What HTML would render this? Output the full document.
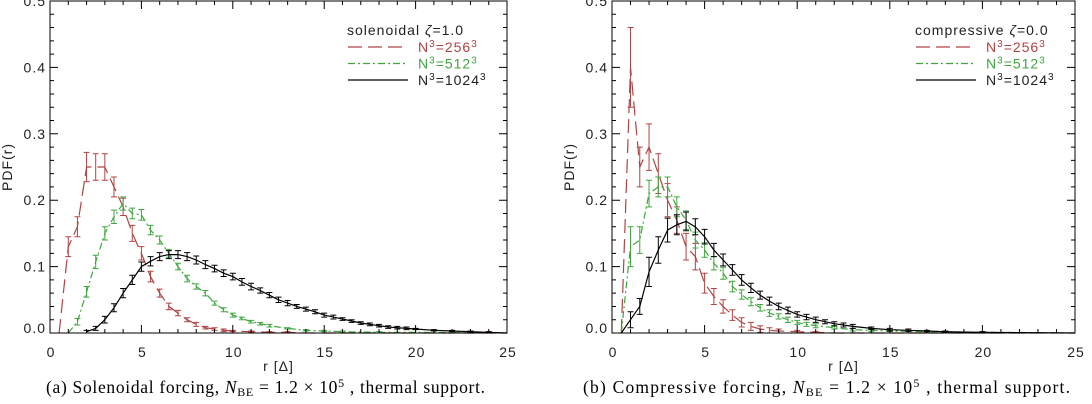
<!DOCTYPE html>
<html><head><meta charset="utf-8"><style>
html,body{margin:0;padding:0;background:#fff;width:1092px;height:404px;overflow:hidden}
svg{display:block}
text{font-family:"Liberation Sans","DejaVu Sans",sans-serif;letter-spacing:1px}
.cap{font-family:"Liberation Serif",serif;font-size:17.5px;letter-spacing:0}
</style></head><body>
<svg id="chart" width="1092" height="404"></svg>
<script>
// ---- data (left panel: solenoidal) ----
const rA256 = [0.5,1,1.5,2,2.5,3,3.5,4,4.5,5,5.5,6,6.5,7,7.5,8,8.5,9,9.5,10,11,12,13,14,15,17,20,25];
const pA256 = [0,0.13,0.16,0.25,0.25,0.25,0.22,0.19,0.15,0.12,0.085,0.06,0.04,0.03,0.02,0.013,0.008,0.006,0.004,0.003,0.002,0.001,0.001,0,0,0,0,0];
const eA256 = [0,0.015,0.015,0.022,0.02,0.02,0.015,0.013,0.012,0.01,0.008,0.006,0.005,0.004,0.003,0.003,0.002,0.002,0.002,0.001,0.001,0.001,0.001,0,0,0,0,0];
const rA512 = [1,1.5,2,2.5,3,3.5,4,4.5,5,5.5,6,6.5,7,7.5,8,8.5,9,9.5,10,10.5,11,11.5,12,13,14,15,16,18,20,25];
const pA512 = [0,0.017,0.062,0.107,0.15,0.175,0.195,0.18,0.178,0.155,0.14,0.12,0.1,0.082,0.07,0.06,0.045,0.035,0.027,0.022,0.017,0.014,0.011,0.007,0.004,0.003,0.002,0.001,0.001,0];
const eA512 = [0,0.005,0.008,0.01,0.01,0.01,0.01,0.008,0.008,0.007,0.006,0.006,0.005,0.005,0.004,0.004,0.003,0.003,0.003,0.002,0.002,0.002,0.002,0.001,0.001,0.001,0.001,0.001,0,0];
const rA1024 = [2,2.5,3,3.5,4,4.5,5,5.5,6,6.5,7,7.5,8,8.5,9,9.5,10,10.5,11,11.5,12,12.5,13,13.5,14,14.5,15,15.5,16,16.5,17,17.5,18,18.5,19,19.5,20,21,22,23,24,25];
const pA1024 = [0.002,0.007,0.02,0.038,0.06,0.08,0.1,0.108,0.115,0.118,0.118,0.115,0.11,0.103,0.097,0.09,0.085,0.077,0.07,0.064,0.057,0.05,0.045,0.04,0.036,0.032,0.027,0.024,0.021,0.018,0.015,0.013,0.011,0.009,0.008,0.007,0.006,0.004,0.003,0.002,0.001,0];
const eA1024 = [0.002,0.003,0.005,0.006,0.007,0.007,0.007,0.007,0.006,0.006,0.006,0.006,0.006,0.006,0.005,0.005,0.005,0.005,0.005,0.004,0.004,0.004,0.004,0.003,0.003,0.003,0.003,0.003,0.002,0.002,0.002,0.002,0.002,0.002,0.002,0.002,0.001,0.001,0.001,0.001,0.001,0];
// ---- data (right panel: compressive) ----
const rB256 = [0.5,1,1.5,2,2.5,3,3.5,4,4.5,5,5.5,6,6.5,7,7.5,8,8.5,9,10,11,12,25];
const pB256 = [0,0.4,0.25,0.28,0.24,0.2,0.17,0.13,0.115,0.075,0.055,0.04,0.027,0.016,0.01,0.006,0.004,0.003,0.002,0.001,0,0];
const eB256 = [0,0.06,0.03,0.035,0.03,0.025,0.02,0.02,0.02,0.015,0.012,0.01,0.008,0.007,0.006,0.005,0.004,0.003,0.002,0.001,0,0];
const rB512 = [0.5,1,1.5,2,2.5,3,3.5,4,4.5,5,5.5,6,6.5,7,7.5,8,8.5,9,9.5,10,10.5,11,12,13,14,15,17,20,25];
const pB512 = [0,0.13,0.14,0.21,0.22,0.22,0.19,0.17,0.14,0.125,0.105,0.09,0.07,0.058,0.047,0.038,0.03,0.025,0.02,0.016,0.013,0.011,0.008,0.005,0.004,0.003,0.002,0.001,0];
const eB512 = [0,0.03,0.02,0.02,0.015,0.015,0.015,0.014,0.012,0.011,0.01,0.009,0.008,0.007,0.006,0.005,0.005,0.004,0.004,0.003,0.003,0.003,0.002,0.002,0.002,0.001,0.001,0.001,0];
const rB1024 = [0.5,1,1.5,2,2.5,3,3.5,4,4.5,5,5.5,6,6.5,7,7.5,8,8.5,9,9.5,10,10.5,11,11.5,12,12.5,13,14,15,16,17,18,20,25];
const pB1024 = [0,0.02,0.04,0.092,0.125,0.155,0.163,0.168,0.16,0.145,0.125,0.11,0.095,0.08,0.068,0.057,0.048,0.04,0.034,0.028,0.024,0.02,0.017,0.014,0.012,0.01,0.007,0.005,0.004,0.003,0.002,0.001,0];
const eB1024 = [0,0.012,0.012,0.022,0.02,0.018,0.015,0.014,0.012,0.011,0.01,0.009,0.008,0.008,0.007,0.006,0.006,0.005,0.005,0.004,0.004,0.004,0.003,0.003,0.003,0.003,0.002,0.002,0.002,0.001,0.001,0.001,0];
const xTicks = [0,5,10,15,20,25];
const yTicks = [0.0,0.1,0.2,0.3,0.4,0.5];
const yTickLabels = ["0.0","0.1","0.2","0.3","0.4","0.5"];

const NS = "http://www.w3.org/2000/svg";
const svg = document.getElementById('chart');
function mk(tag, attrs, parent){
  const e = document.createElementNS(NS, tag);
  for (const k in attrs) e.setAttribute(k, attrs[k]);
  (parent||svg).appendChild(e);
  return e;
}
const RED = "#b04444", GREEN = "#3fa63f", BLACK = "#000";

function panel(x0, x1, id, title, caption, capX, capW, series){
  const y0 = 333, y1 = 1;
  const sx = v => x0 + (x1 - x0) * v / 25;
  const sy = v => y0 - (y0 - y1) * v / 0.5;
  const g = mk('g', {});
  
  
  series.forEach(s => {
    const sg = mk('g', {}, g);
    
    
    let d = '';
    s.r.forEach((r, i) => { d += (i ? 'L' : 'M') + sx(r).toFixed(1) + ',' + sy(s.p[i]).toFixed(1); });
    const ln = mk('path', {d: d, fill: 'none', stroke: s.color, 'stroke-width': 1.2, 'stroke-dasharray': s.dash}, sg);
    
    
    s.r.forEach((r, i) => {
      if (!s.e[i]) return;
      const X = sx(r), lo = sy(Math.max(0, s.p[i] - s.e[i])), hi = sy(s.p[i] + s.e[i]);
      const eb = mk('path', {d: `M${X},${lo}V${hi}M${X-3},${lo}h6M${X-3},${hi}h6`, stroke: s.color, 'stroke-width': 1, fill: 'none'}, sg);
      
      
    });
  });
  const fr = mk('rect', {x: x0, y: y1, width: x1 - x0, height: y0 - y1, fill: 'none', stroke: '#000', 'stroke-width': 1}, g);
  
  
  let td = '';
  for (let v = 0; v <= 25; v += 1) {
    const L = v % 5 === 0 ? 8 : 4, X = sx(v);
    td += `M${X},${y0}v${-L}M${X},${y1}v${L}`;
  }
  for (let k = 0; k <= 25; k++) {
    const v = k * 0.02, L = k % 5 === 0 ? 8 : 4, Y = sy(v);
    td += `M${x0},${Y}h${L}M${x1},${Y}h${-L}`;
  }
  const tk = mk('path', {d: td, stroke: '#000', 'stroke-width': 1, fill: 'none'}, g);
  
  
  xTicks.forEach(v => {
    const t = mk('text', {x: sx(v) + 1, y: 357, 'font-size': 14, 'text-anchor': 'middle', fill: '#222'}, g);
    t.textContent = v;
    
    
  });
  yTicks.forEach((v, i) => {
    const t = mk('text', {x: x0 - 4, y: sy(v) + (i === 0 ? 0 : 5), 'font-size': 14, 'text-anchor': 'end', fill: '#222'}, g);
    t.textContent = yTickLabels[i];
    
    
  });
  const yl = mk('text', {x: 0, y: 0, 'font-size': 14, 'text-anchor': 'middle', fill: '#222', transform: `translate(${x0 - 38},167) rotate(-90)`}, g);
  yl.textContent = 'PDF(r)';
  
  
  const xl = mk('text', {x: (x0 + x1) / 2, y: 371, 'font-size': 14, 'text-anchor': 'middle', fill: '#222'}, g);
  xl.textContent = 'r [Δ]';
  
  
  const lx = x1 - 159;
  const lg = mk('g', {}, g);
  
  
  const lt = mk('text', {x: lx - 1, y: 35, 'font-size': 14, fill: '#222'}, lg);
  lt.innerHTML = title;
  
  
  series.forEach((s, i) => {
    const Y = 47 + i * 16.5;
    const l = mk('line', {x1: lx, x2: lx + 60, y1: Y, y2: Y, stroke: s.color, 'stroke-width': 1.2, 'stroke-dasharray': s.dash}, lg);
    
    
    const t = mk('text', {x: lx + 70, y: Y + 5, 'font-size': 14, fill: s.color === BLACK ? '#222' : s.color}, lg);
    t.innerHTML = 'N<tspan dy="-5" font-size="10">3</tspan><tspan dy="5">=' + s.label + '</tspan><tspan dy="-5" font-size="10">3</tspan>';
    
    
  });
  const c = mk('text', {x: capX, y: 393, 'text-anchor': 'start', class: 'cap', fill: '#000', textLength: capW, lengthAdjust: 'spacing'}, g);
  c.innerHTML = caption;
  
  
}

const capTail = ', <tspan font-style="italic">N</tspan><tspan font-size="12" dy="3">BE</tspan><tspan dy="-3"> = 1.2 × 10</tspan><tspan font-size="12" dy="-6">5</tspan><tspan dy="6"> , thermal support.</tspan>';
panel(50, 507, 'solenoidal', 'solenoidal  <tspan font-style="italic">ζ</tspan>=1.0',
  '(a)  Solenoidal forcing' + capTail, 46, 439,
  [{name:'256', label:'256', r:rA256, p:pA256, e:eA256, color:RED, dash:'14 6'},
   {name:'512', label:'512', r:rA512, p:pA512, e:eA512, color:GREEN, dash:'7 3 2 3'},
   {name:'1024', label:'1024', r:rA1024, p:pA1024, e:eA1024, color:BLACK, dash:'none'}]);
panel(612, 1075, 'compressive', 'compressive  <tspan font-style="italic">ζ</tspan>=0.0',
  '(b)  Compressive forcing' + capTail, 583, 487,
  [{name:'256', label:'256', r:rB256, p:pB256, e:eB256, color:RED, dash:'14 6'},
   {name:'512', label:'512', r:rB512, p:pB512, e:eB512, color:GREEN, dash:'7 3 2 3'},
   {name:'1024', label:'1024', r:rB1024, p:pB1024, e:eB1024, color:BLACK, dash:'none'}]);
</script>
</body></html>
